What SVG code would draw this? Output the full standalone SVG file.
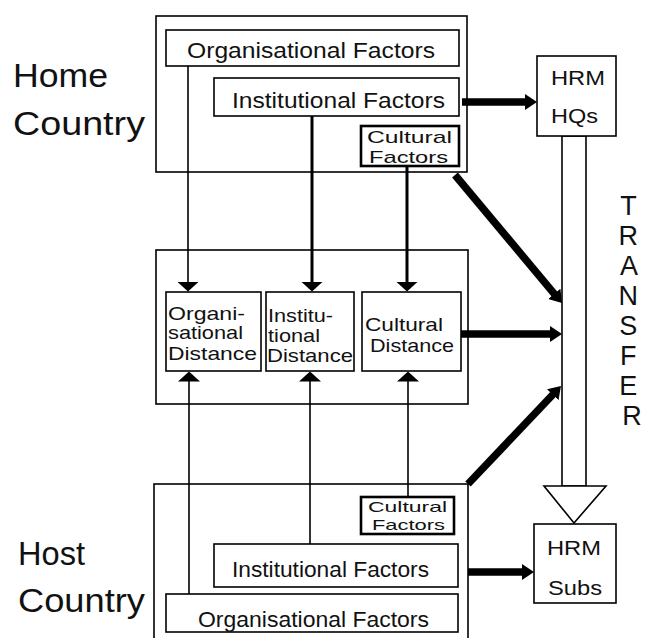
<svg xmlns="http://www.w3.org/2000/svg" width="646" height="638" viewBox="0 0 646 638">
<style>
  .bg { fill: #ffffff; }
  .box { fill: #ffffff; stroke: #000; stroke-width: 1.6; }
  .frame { fill: none; stroke: #000; stroke-width: 1.6; }
  .cbox { fill: #ffffff; stroke: #000; stroke-width: 2.6; }
  .t { font-family: "Liberation Sans", Arial, Helvetica, sans-serif; fill: #111; }
  .big { font-size: 34px; }
  .f { font-size: 22px; }
  .fd { font-size: 19px; }
  .fs { font-size: 20px; }
  .fc { font-size: 17px; }
  .fh { font-size: 15px; }
  .thin { stroke: #000; stroke-width: 1.6; fill: none; }
  .med { stroke: #000; stroke-width: 3; fill: none; }
  .thick { stroke: #000; stroke-width: 7.5; fill: none; }
  .hollow { fill: #ffffff; stroke: #000; stroke-width: 1.6; }
</style>
<defs>
  <marker id="ah" markerUnits="userSpaceOnUse" viewBox="0 0 12 16" markerWidth="12" markerHeight="16" refX="1" refY="8" orient="auto">
    <path d="M0,0 L12,8 L0,16 z" fill="#000"/>
  </marker>
  <marker id="sa" markerUnits="userSpaceOnUse" viewBox="0 0 10 22" markerWidth="10" markerHeight="22" refX="0.5" refY="11" orient="auto">
    <path d="M0,0 L10,11 L0,22 z" fill="#000"/>
  </marker>
</defs>
<rect class="bg" x="0" y="0" width="646" height="638"/>

<g id="home-country">
  <rect class="frame" x="156" y="16" width="311" height="156"/>
  <text class="t big" x="13" y="87" textLength="95" lengthAdjust="spacingAndGlyphs">Home</text>
  <text class="t big" x="13" y="135" textLength="132" lengthAdjust="spacingAndGlyphs">Country</text>
</g>
<g id="home-org">
  <rect class="box" x="166" y="30" width="293" height="36"/>
  <text class="t f" x="187" y="58" textLength="248" lengthAdjust="spacingAndGlyphs">Organisational Factors</text>
</g>
<g id="home-inst">
  <rect class="box" x="214" y="78" width="245" height="38"/>
  <text class="t f" x="232" y="108" textLength="213" lengthAdjust="spacingAndGlyphs">Institutional Factors</text>
</g>
<g id="home-cult">
  <rect class="cbox" x="361" y="126" width="98" height="40"/>
  <text class="t fc" x="367" y="143" textLength="85" lengthAdjust="spacingAndGlyphs">Cultural</text>
  <text class="t fc" x="369" y="163" textLength="79" lengthAdjust="spacingAndGlyphs">Factors</text>
</g>

<g id="distance">
  <rect class="frame" x="156" y="250" width="312" height="154"/>
</g>
<g id="org-distance">
  <rect class="box" x="166" y="292" width="95" height="79"/>
  <text class="t fd" x="168" y="320" textLength="77" lengthAdjust="spacingAndGlyphs">Organi-</text>
  <text class="t fd" x="168" y="339" textLength="75" lengthAdjust="spacingAndGlyphs">sational</text>
  <text class="t fd" x="168" y="360" textLength="89" lengthAdjust="spacingAndGlyphs">Distance</text>
</g>
<g id="inst-distance">
  <rect class="box" x="266" y="292" width="88" height="79"/>
  <text class="t fd" x="268" y="322" textLength="65" lengthAdjust="spacingAndGlyphs">Institu-</text>
  <text class="t fd" x="268" y="342" textLength="52" lengthAdjust="spacingAndGlyphs">tional</text>
  <text class="t fd" x="267" y="362" textLength="86" lengthAdjust="spacingAndGlyphs">Distance</text>
</g>
<g id="cult-distance">
  <rect class="box" x="362" y="292" width="99" height="79"/>
  <text class="t fd" x="365" y="331" textLength="78" lengthAdjust="spacingAndGlyphs">Cultural</text>
  <text class="t fd" x="370" y="352" textLength="84" lengthAdjust="spacingAndGlyphs">Distance</text>
</g>

<g id="host-country">
  <rect class="frame" x="154" y="484" width="314" height="170"/>
  <text class="t big" x="18" y="565" textLength="67" lengthAdjust="spacingAndGlyphs">Host</text>
  <text class="t big" x="18" y="612" textLength="127" lengthAdjust="spacingAndGlyphs">Country</text>
</g>
<g id="host-cult">
  <rect class="cbox" x="361" y="497" width="93" height="37"/>
  <text class="t fh" x="368" y="512" textLength="79" lengthAdjust="spacingAndGlyphs">Cultural</text>
  <text class="t fh" x="372" y="530" textLength="73" lengthAdjust="spacingAndGlyphs">Factors</text>
</g>
<g id="host-inst">
  <rect class="box" x="214" y="544" width="244" height="43"/>
  <text class="t f" x="232" y="577" textLength="197" lengthAdjust="spacingAndGlyphs">Institutional Factors</text>
</g>
<g id="host-org">
  <rect class="box" x="166" y="594" width="292" height="38"/>
  <text class="t f" x="198" y="627" textLength="231" lengthAdjust="spacingAndGlyphs">Organisational Factors</text>
</g>

<g id="connectors">
  <rect class="hollow" x="562" y="136" width="24" height="350"/>
  <polygon class="hollow" points="544,486 606,486 574,523"/>
  <line class="thin" x1="188" y1="66" x2="188" y2="282" marker-end="url(#sa)"/>
  <line class="med" x1="312" y1="116" x2="312" y2="282" marker-end="url(#sa)"/>
  <line class="med" x1="407" y1="166" x2="407" y2="282" marker-end="url(#sa)"/>
  <line class="thin" x1="189" y1="594" x2="189" y2="381" marker-end="url(#sa)"/>
  <line class="thin" x1="310" y1="544" x2="310" y2="381" marker-end="url(#sa)"/>
  <line class="thin" x1="408" y1="497" x2="408" y2="381" marker-end="url(#sa)"/>
  <line class="thick" x1="462" y1="102" x2="526" y2="102" marker-end="url(#ah)"/>
  <line class="thick" x1="468" y1="572" x2="523" y2="572" marker-end="url(#ah)"/>
  <line class="thick" x1="461" y1="334" x2="551" y2="334" marker-end="url(#ah)"/>
  <line class="thick" x1="455" y1="175" x2="554.9" y2="294.6" marker-end="url(#ah)"/>
  <line class="thick" x1="468" y1="484" x2="553.4" y2="394" marker-end="url(#ah)"/>
  <text class="t" font-size="27" text-anchor="middle">
    <tspan x="632" y="215">T</tspan>
    <tspan x="632" y="245">R</tspan>
    <tspan x="632" y="275">A</tspan>
    <tspan x="632" y="305">N</tspan>
    <tspan x="632" y="335">S</tspan>
    <tspan x="632" y="365">F</tspan>
    <tspan x="632" y="395">E</tspan>
    <tspan x="632" y="425">R</tspan>
  </text>
</g>

<g id="hrm-hqs">
  <rect class="box" x="537" y="56" width="79" height="80"/>
  <text class="t fs" x="551" y="85" textLength="54" lengthAdjust="spacingAndGlyphs">HRM</text>
  <text class="t fs" x="551" y="123" textLength="47" lengthAdjust="spacingAndGlyphs">HQs</text>
</g>
<g id="hrm-subs">
  <rect class="box" x="534" y="524" width="82" height="79"/>
  <text class="t fs" x="547" y="555" textLength="54" lengthAdjust="spacingAndGlyphs">HRM</text>
  <text class="t fs" x="548" y="595" textLength="54" lengthAdjust="spacingAndGlyphs">Subs</text>
</g>
</svg>
